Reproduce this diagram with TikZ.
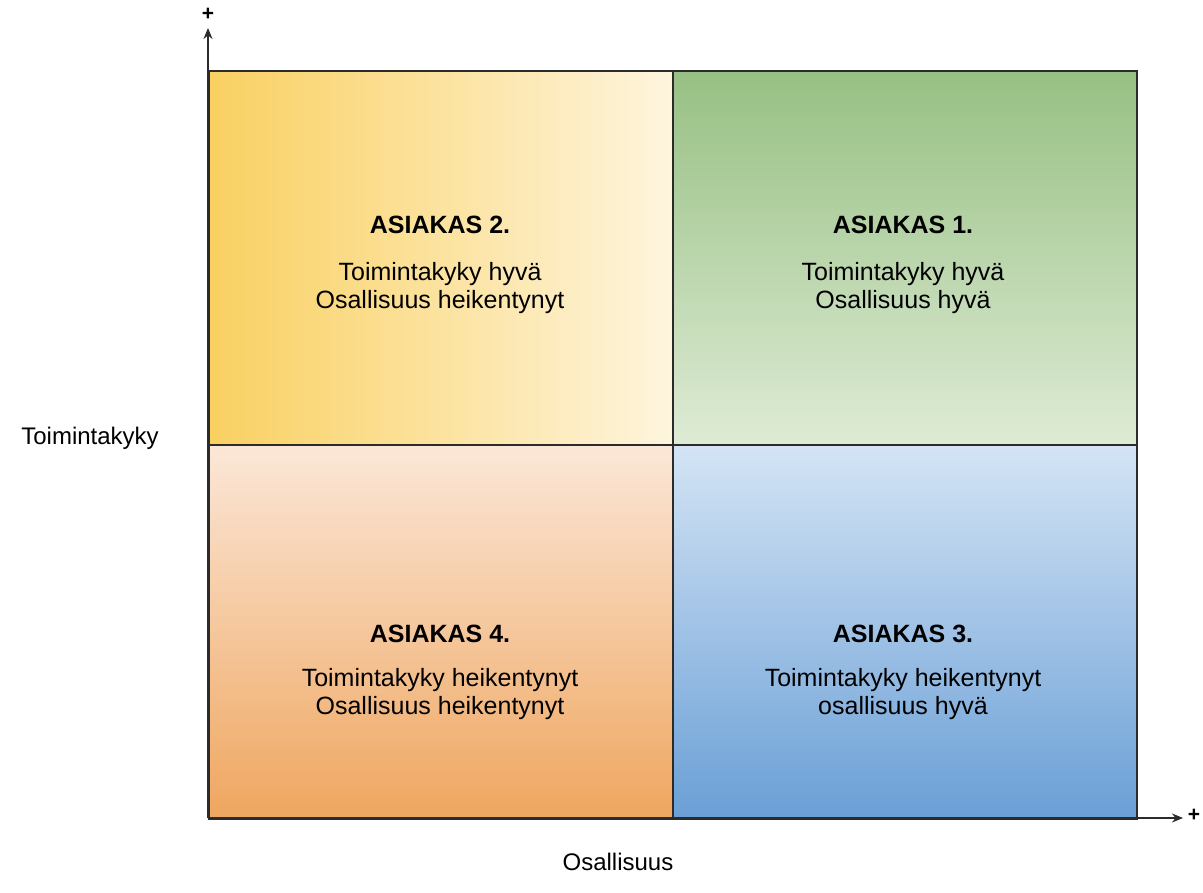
\documentclass[tikz,border=0pt]{standalone}
\usepackage{fontspec}
\setmainfont{Liberation Sans}
\usetikzlibrary{arrows.meta}
\definecolor{yelA}{HTML}{F9D061}
\definecolor{yelB}{HTML}{FEF5DE}
\definecolor{grnA}{HTML}{97C083}
\definecolor{grnB}{HTML}{DEEBD5}
\definecolor{orA}{HTML}{FBE7D8}
\definecolor{orB}{HTML}{EFA65F}
\definecolor{bluA}{HTML}{D4E4F5}
\definecolor{bluB}{HTML}{6A9FD6}
\definecolor{edge}{HTML}{2B2B2B}
\begin{document}
\begin{tikzpicture}[x=1pt,y=-1pt,
  quad/.style={draw=edge, line width=1.8pt, minimum width=464pt, minimum height=374pt, inner sep=0pt, anchor=north west},
  ttl/.style={font=\fontsize{25}{28}\selectfont\bfseries, text=black},
  body/.style={font=\fontsize{25}{28}\selectfont, align=center, text=black},
  axlbl/.style={font=\fontsize{24}{28}\selectfont, text=black},
  plus/.style={font=\fontsize{21}{24}\selectfont\bfseries, text=black},
  axis/.style={draw=edge, line width=2pt, -{Stealth[length=11pt,width=9pt]}}
]
\useasboundingbox (0,0) rectangle (1203,893);
% quadrants
\node[quad, left color=yelA, right color=yelB] (q2) at (208,70) {};
\node[quad, top color=grnA, bottom color=grnB] (q1) at (672,70) {};
\node[quad, top color=orA, bottom color=orB] (q4) at (208,444) {};
\node[quad, top color=bluA, bottom color=bluB] (q3) at (672,444) {};
% texts
\node[ttl] (t2) at (440,225) {ASIAKAS 2.};
\node[body] (b2) at (440,288) {Toimintakyky hyvä\\Osallisuus heikentynyt};
\node[ttl] (t1) at (903,225) {ASIAKAS 1.};
\node[body] (b1) at (903,288) {Toimintakyky hyvä\\Osallisuus hyvä};
\node[ttl] (t4) at (440,634) {ASIAKAS 4.};
\node[body] (b4) at (440,694) {Toimintakyky heikentynyt\\Osallisuus heikentynyt};
\node[ttl] (t3) at (903,634) {ASIAKAS 3.};
\node[body] (b3) at (903,694) {Toimintakyky heikentynyt\\osallisuus hyvä};
% axes
\coordinate (o) at (208,818);
\coordinate (ytip) at (208,28);
\coordinate (xtip) at (1183,818);
\draw[axis] (o) -- (ytip);
\draw[axis] (o) -- (xtip);
\node[plus] (py) at (208,14) {+};
\node[plus] (px) at (1194,815) {+};
\node[axlbl] (ly) at (90,438) {Toimintakyky};
\node[axlbl] (lx) at (618,862) {Osallisuus};
\end{tikzpicture}
\end{document}
